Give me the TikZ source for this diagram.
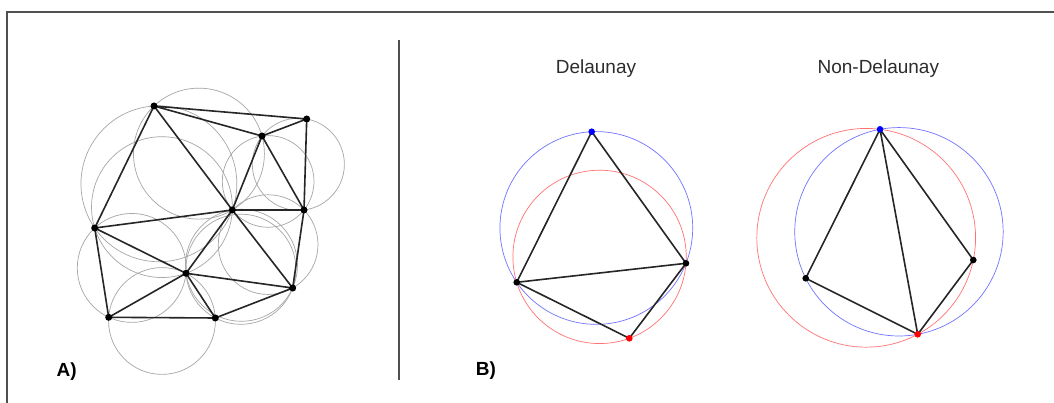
\documentclass[tikz,border=0pt]{standalone}
\usepackage{fontspec}
\setmainfont{Liberation Sans}
\newcommand\ccirc[4]{%
  \pgfpointanchor{#2}{center}\pgfgetlastxy{\CCax}{\CCay}%
  \pgfpointanchor{#3}{center}\pgfgetlastxy{\CCbx}{\CCby}%
  \pgfpointanchor{#4}{center}\pgfgetlastxy{\CCcx}{\CCcy}%
  \pgfmathsetmacro\CCu{(\CCbx-\CCax)/100}%
  \pgfmathsetmacro\CCv{(\CCby-\CCay)/100}%
  \pgfmathsetmacro\CCs{(\CCcx-\CCax)/100}%
  \pgfmathsetmacro\CCt{(\CCcy-\CCay)/100}%
  \pgfmathsetmacro\CCd{2*(\CCu*\CCt-\CCv*\CCs)}%
  \pgfmathsetmacro\CCp{\CCu*\CCu+\CCv*\CCv}%
  \pgfmathsetmacro\CCq{\CCs*\CCs+\CCt*\CCt}%
  \pgfmathsetmacro\CCx{(\CCt*\CCp-\CCv*\CCq)/\CCd}%
  \pgfmathsetmacro\CCy{(\CCu*\CCq-\CCs*\CCp)/\CCd}%
  \pgfmathsetmacro\CCr{100*sqrt(\CCx*\CCx+\CCy*\CCy)}%
  \pgfmathsetmacro\CCox{\CCax+100*\CCx}%
  \pgfmathsetmacro\CCoy{\CCay+100*\CCy}%
  \draw[#1] (\CCox pt,\CCoy pt) circle[radius=\CCr pt];%
}
\definecolor{frame}{RGB}{80,80,80}
\definecolor{txt}{RGB}{45,45,45}
\tikzset{
  edge/.style={line width=1.6pt,black!85},
  cc/.style={gray!70,line width=0.7pt},
  bc/.style={blue!55,line width=0.7pt},
  rc/.style={red!55,line width=0.7pt},
  lab/.style={font=\fontsize{19}{22}\selectfont,text=txt,anchor=base,inner sep=0pt},
  blab/.style={font=\fontsize{19}{22}\selectfont\bfseries,text=black,anchor=base,inner sep=0pt},
}
\begin{document}
\begin{tikzpicture}[x=1pt,y=-1pt]
\useasboundingbox (0,0) rectangle (1054,403);
\fill[white] (0,0) rectangle (1054,403);
% frame
\coordinate (fa) at (7,403);
\coordinate (fb) at (7,12);
\coordinate (fc) at (1054,12);
\draw[frame,line width=1.4pt] (fa) -- (fb) -- (fc);
% divider
\coordinate (d1) at (399,40);
\coordinate (d2) at (399,380);
\draw[frame,line width=1.4pt] (d1) -- (d2);
% Panel A points
\coordinate (P1) at (154,106);
\coordinate (P2) at (306.7,119);
\coordinate (P3) at (262,136);
\coordinate (P4) at (232.3,210);
\coordinate (P5) at (304,210);
\coordinate (P6) at (94.7,228);
\coordinate (P7) at (186,273.3);
\coordinate (P8) at (292.7,288);
\coordinate (P9) at (108.7,317.3);
\coordinate (P10) at (215.3,318);
% circumcircles
\ccirc{cc}{P1}{P4}{P3}
\ccirc{cc}{P3}{P4}{P5}
\ccirc{cc}{P3}{P5}{P2}
\ccirc{cc}{P1}{P6}{P4}
\ccirc{cc}{P6}{P7}{P4}
\ccirc{cc}{P4}{P7}{P8}
\ccirc{cc}{P4}{P8}{P5}
\ccirc{cc}{P6}{P9}{P7}
\ccirc{cc}{P7}{P9}{P10}
\ccirc{cc}{P7}{P10}{P8}
% edges
\draw[edge] (P1)--(P2) (P1)--(P3) (P3)--(P2) (P1)--(P4) (P1)--(P6)
  (P3)--(P4) (P3)--(P5) (P2)--(P5) (P4)--(P5) (P6)--(P4) (P6)--(P7)
  (P6)--(P9) (P7)--(P4) (P4)--(P8) (P5)--(P8) (P7)--(P8) (P7)--(P9)
  (P7)--(P10) (P9)--(P10) (P10)--(P8);
\foreach \i in {1,...,10} \fill (P\i) circle[radius=3.5pt];
% Panel B Delaunay
\coordinate (Q1) at (591.7,131.7);
\coordinate (Q2) at (686,263.3);
\coordinate (Q3) at (516.7,282.3);
\coordinate (Q4) at (629.3,338.3);
\ccirc{bc}{Q1}{Q2}{Q3}
\ccirc{rc}{Q3}{Q2}{Q4}
\draw[edge] (Q1)--(Q2) (Q1)--(Q3) (Q3)--(Q2) (Q3)--(Q4) (Q4)--(Q2);
\fill[blue] (Q1) circle[radius=3.3pt];
\fill (Q2) circle[radius=3.3pt];
\fill (Q3) circle[radius=3.3pt];
\fill[red] (Q4) circle[radius=3.3pt];
% Panel B Non-Delaunay
\coordinate (R1) at (880,129.3);
\coordinate (R2) at (973.3,260);
\coordinate (R3) at (805.7,278.3);
\coordinate (R4) at (917.7,334.3);
\ccirc{bc}{R1}{R3}{R4}
\ccirc{rc}{R1}{R2}{R4}
\draw[edge] (R1)--(R3) (R1)--(R4) (R1)--(R2) (R3)--(R4) (R4)--(R2);
\fill[blue] (R1) circle[radius=3.3pt];
\fill (R2) circle[radius=3.3pt];
\fill (R3) circle[radius=3.3pt];
\fill[red] (R4) circle[radius=3.3pt];
% labels
\node[lab] (t1) at (596,74) {Delaunay};
\node[lab] (t2) at (878.3,74) {Non-Delaunay};
\node[blab] (la) at (66.7,376) {A)};
\node[blab] (lb) at (486,375) {B)};
\end{tikzpicture}
\end{document}
